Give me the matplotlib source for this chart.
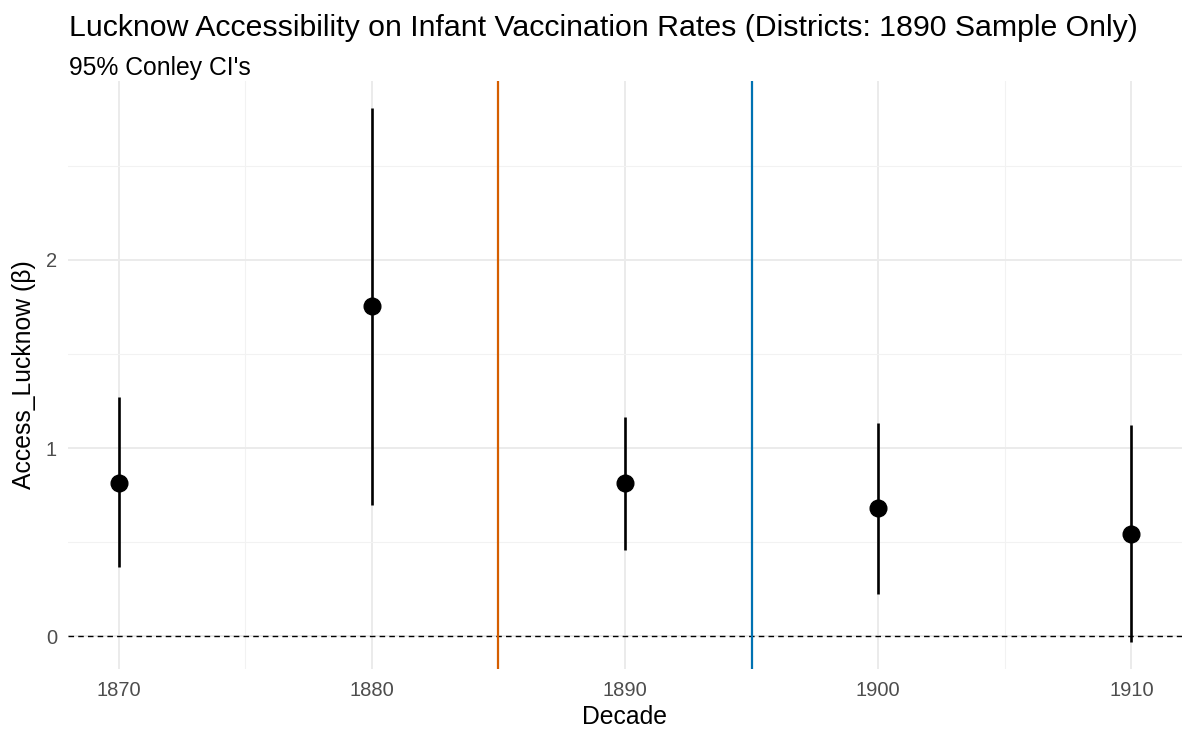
import matplotlib.pyplot as plt
from matplotlib.ticker import MultipleLocator

plt.rcParams['font.family'] = ['Liberation Sans', 'DejaVu Sans']

# Estimates and 95% Conley confidence bounds by decade
decades = [1870, 1880, 1890, 1900, 1910]
estimate = [0.815, 1.753, 0.812, 0.679, 0.543]
ci_low = [0.369, 0.700, 0.461, 0.223, -0.032]
ci_high = [1.273, 2.809, 1.163, 1.135, 1.124]

# Reference years marked with vertical lines
event_years = [1885, 1895]
event_colors = ['#D55E00', '#0072B2']

fig = plt.figure(figsize=(11.83, 7.31), dpi=100)
ax = fig.add_axes([68 / 1183, 1 - 669 / 731, (1182 - 68) / 1183, (669 - 81) / 731])

# theme_minimal style grid
ax.set_axisbelow(True)
ax.xaxis.set_major_locator(MultipleLocator(10))
ax.xaxis.set_minor_locator(MultipleLocator(5))
ax.yaxis.set_major_locator(MultipleLocator(1))
ax.yaxis.set_minor_locator(MultipleLocator(0.5))
ax.grid(which='major', color='#EBEBEB', linewidth=1.4)
ax.grid(which='minor', color='#F2F2F2', linewidth=0.8)
for s in ax.spines.values():
    s.set_visible(False)
ax.tick_params(which='both', length=0)
ax.tick_params(axis='both', labelsize=14.5, labelcolor='#4D4D4D')
ax.tick_params(axis='x', pad=9)
ax.tick_params(axis='y', pad=8)

ax.axhline(0, color='black', linestyle=(0, (4, 3)), linewidth=1.0, zorder=2)
for yr, col in zip(event_years, event_colors):
    ax.axvline(yr, color=col, linewidth=1.6, zorder=2)

ax.vlines(decades, ci_low, ci_high, color='black', linewidth=1.9, zorder=3)
ax.plot(decades, estimate, 'o', color='black', markersize=12, zorder=4)

span = max(ci_high) - min(ci_low)
ax.set_xlim(1868, 1912)
ax.set_ylim(min(ci_low) - 0.05 * span, max(ci_high) + 0.05 * span)

ax.set_xlabel('Decade', fontsize=17.8, labelpad=3)
ax.set_ylabel('Access_Lucknow (β)', fontsize=17.8, labelpad=7)

fig.text(69 / 1183, 1 - 36 / 731, 'Lucknow Accessibility on Infant Vaccination Rates (Districts: 1890 Sample Only)',
         fontsize=21.8, va='baseline', ha='left')
fig.text(69 / 1183, 1 - 75 / 731, "95% Conley CI's", fontsize=17.8, va='baseline', ha='left')

fig.savefig('out.png', dpi=100)
